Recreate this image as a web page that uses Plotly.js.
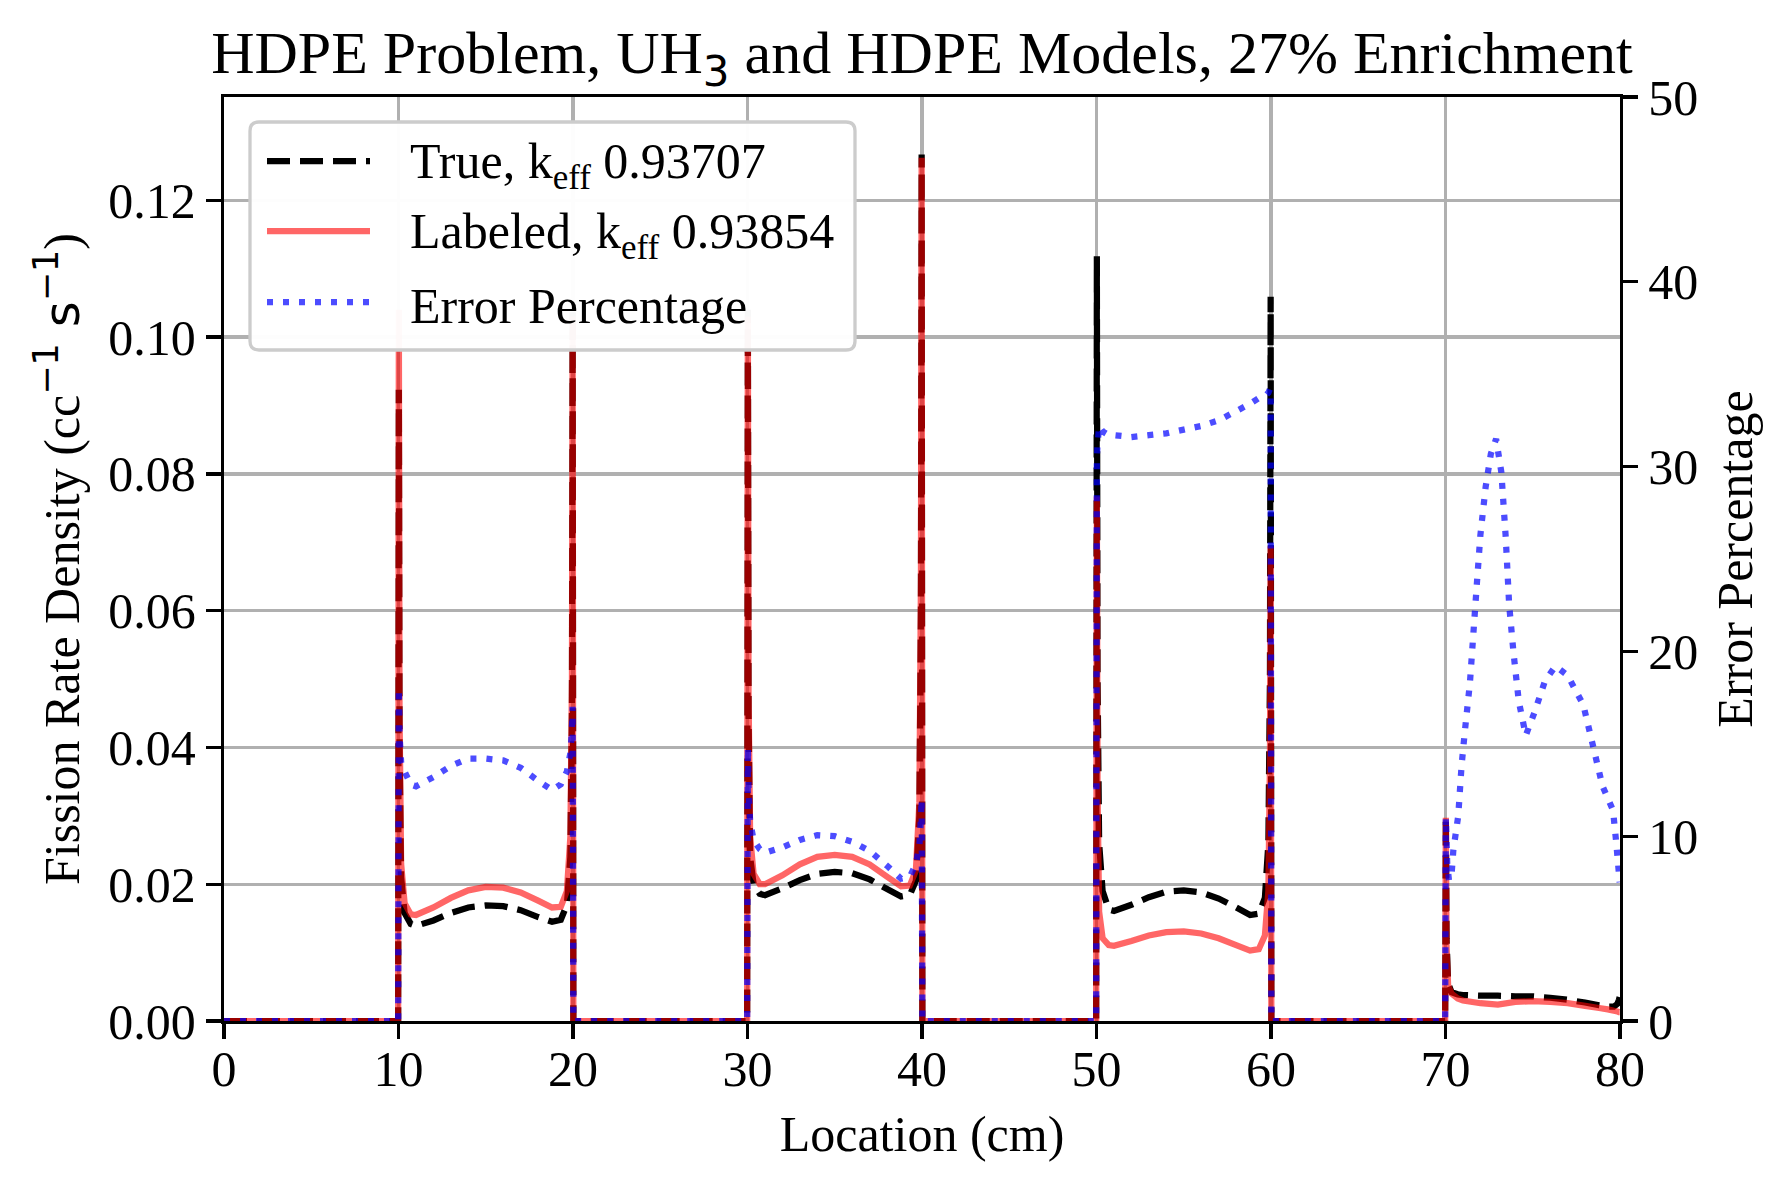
<!DOCTYPE html>
<html>
<head>
<meta charset="utf-8">
<script src="https://cdn.plot.ly/plotly-3.0.1.min.js"></script>
<style>
  html, body { margin: 0; padding: 0; background: #ffffff; }
  #chart { width: 1790px; height: 1189px; }
</style>
</head>
<body>
<div id="chart"></div>
<script>
// ---- data ----
const location_cm = [0, 9.98,
  10.02,10.06,10.15,10.35,10.7,11,12,13,14,15,16,17,18,18.8,19.3,19.65,19.85,19.94,19.98,
  20.02, 29.98,
  30.02,30.06,30.15,30.35,30.7,31,32,33,34,35,36,37,38,38.8,39.3,39.65,39.85,39.94,39.98,
  40.02, 49.98,
  50.02,50.06,50.15,50.35,50.7,51,52,53,54,55,56,57,58,58.8,59.3,59.65,59.85,59.94,59.98,
  60.02, 69.98,
  70.02,70.06,70.15,70.35,70.7,71,72,73,74,75,76,77,78,78.8,79.3,79.65,79.85,79.94,79.98];

const trueRate = [0, 0,
  0.0923,0.040,0.021,0.0158,0.0142,0.0139,0.0147,0.0158,0.0166,0.0169,0.0168,0.0162,0.0152,0.0145,0.0148,0.0170,0.024,0.045,0.104,
  0, 0,
  0.104,0.045,0.024,0.0200,0.0186,0.0184,0.0194,0.0206,0.0215,0.0218,0.0216,0.0207,0.0193,0.0182,0.0184,0.0205,0.030,0.060,0.1267,
  0, 0,
  0.1118,0.050,0.026,0.0190,0.0163,0.0161,0.0170,0.0181,0.0189,0.0191,0.0188,0.0179,0.0166,0.0155,0.0157,0.0180,0.026,0.050,0.1059,
  0, 0,
  0.0298,0.012,0.0055,0.0042,0.0039,0.0038,0.0037,0.0037,0.0036,0.0036,0.0034,0.0031,0.0027,0.0023,0.0021,0.0021,0.0025,0.0031,0.0035];

const labeledRate = [0, 0,
  0.104,0.045,0.023,0.0172,0.0156,0.0155,0.0166,0.0180,0.0191,0.0196,0.0195,0.0188,0.0176,0.0166,0.0167,0.0190,0.027,0.050,0.103,
  0, 0,
  0.103,0.048,0.027,0.0215,0.0200,0.0200,0.0213,0.0229,0.0240,0.0243,0.0240,0.0229,0.0211,0.0197,0.0198,0.0220,0.032,0.065,0.1262,
  0, 0,
  0.0767,0.034,0.016,0.0121,0.0111,0.0110,0.0117,0.0125,0.0130,0.0131,0.0128,0.0121,0.0111,0.0103,0.0105,0.0125,0.019,0.038,0.0694,
  0, 0,
  0.0297,0.011,0.0052,0.0040,0.0033,0.0030,0.0026,0.0024,0.0028,0.0029,0.0028,0.0026,0.0022,0.0019,0.0017,0.0015,0.0014,0.0013,0.0013];

const errorLocation = [0, 9.98,
  10.02,10.06,10.15,10.35,10.7,11,12,13,14,15,16,17,18,18.8,19.3,19.65,19.85,19.94,19.98,
  20.02, 29.98,
  30.02,30.06,30.15,30.35,30.7,31,32,33,34,35,36,37,38,38.8,39.3,39.65,39.85,39.94,39.98,
  40.02, 49.98,
  50.02,50.06,50.15,50.35,50.7,51,52,53,54,55,56,57,58,58.8,59.3,59.65,59.85,59.94,59.98,
  60.02, 69.98,
  70.02,70.1,70.2,70.35,70.45,70.73,70.92,71.1,71.4,71.6,71.8,72.0,72.3,72.6,72.9,73.2,73.45,73.65,73.9,74.2,74.6,75.1,75.7,76.3,77.0,77.9,78.5,79.0,79.6,79.8,79.98];

const errorPct = [0, 0,
  18.0,15.5,14.0,13.5,12.8,12.7,13.2,13.8,14.2,14.2,14.1,13.7,13.0,12.5,12.8,13.5,14.5,15.8,17.0,
  0, 0,
  14.8,12.5,10.8,9.8,9.3,9.1,9.4,9.8,10.06,10.0,9.7,9.2,8.4,7.7,7.8,8.5,9.5,11.0,12.0,
  0, 0,
  30.5,31.2,32.2,31.9,31.7,31.7,31.6,31.7,31.8,32.0,32.2,32.5,33.0,33.4,33.7,33.8,34.0,34.2,33.8,
  0, 0,
  11.0,8.5,7.6,7.95,9.25,11.1,13.8,15.6,18.3,21.0,23.7,26.3,28.9,30.7,31.5,29.7,26.2,22.5,19.9,17.3,15.45,16.7,18.4,19.2,18.7,17.1,14.7,12.7,11.4,9.5,7.5];

const xTicks = [0, 10, 20, 30, 40, 50, 60, 70, 80];
const yTicks = [0, 0.02, 0.04, 0.06, 0.08, 0.10, 0.12];
const y2Ticks = [0, 10, 20, 30, 40, 50];
const seriesNames = ['True, k<sub>eff</sub> 0.93707', 'Labeled, k<sub>eff</sub> 0.93854', 'Error Percentage'];

// ---- styling ----
const SERIF = 'Liberation Serif, Times New Roman, serif';
const LW = 6.25;
const C_TRUE = '#000000';
const C_LAB = 'rgba(255,0,0,0.6)';
const C_ERR = 'rgba(0,0,255,0.7)';
const DASH = '23px,10px';
const DOT = '6px,10px';

const traces = [
  { x: location_cm, y: trueRate, type: 'scatter', mode: 'lines', name: seriesNames[0],
    line: { color: C_TRUE, width: LW, dash: DASH, simplify: false }, xaxis: 'x', yaxis: 'y', showlegend: false },
  { x: location_cm, y: labeledRate, type: 'scatter', mode: 'lines', name: seriesNames[1],
    line: { color: C_LAB, width: LW, simplify: false }, xaxis: 'x', yaxis: 'y', showlegend: false },
  { x: errorLocation, y: errorPct, type: 'scatter', mode: 'lines', name: seriesNames[2],
    line: { color: C_ERR, width: LW, dash: DOT, simplify: false }, xaxis: 'x', yaxis: 'y2', showlegend: false }
];

// plot area in pixels
const W = 1790, H = 1189;
const L = 224, R = 1620, T = 97, B = 1021;
const pw = R - L, ph = B - T;
const px = v => (v - L) / pw;      // pixel -> paper x
const py = v => (B - v) / ph;      // pixel -> paper y

function roundedRect(x0, y0, x1, y1, r) {
  const rx = r / pw, ry = r / ph;
  const a = px(x0), b = px(x1), top = py(y0), bot = py(y1);
  return `M${a+rx},${top} L${b-rx},${top} Q${b},${top} ${b},${top-ry} L${b},${bot+ry} Q${b},${bot} ${b-rx},${bot} L${a+rx},${bot} Q${a},${bot} ${a},${bot+ry} L${a},${top-ry} Q${a},${top} ${a+rx},${top} Z`;
}

const legRows = [161, 231, 302];
const legStyles = [
  { color: C_TRUE, dash: DASH },
  { color: C_LAB, dash: 'solid' },
  { color: C_ERR, dash: DOT }
];

const shapes = [
  { type: 'path', xref: 'paper', yref: 'paper', path: roundedRect(250, 122, 855, 350, 9),
    fillcolor: 'rgba(255,255,255,0.97)', line: { color: '#cccccc', width: 3.3 }, layer: 'above' }
];
legRows.forEach((yy, i) => {
  shapes.push({ type: 'line', xref: 'paper', yref: 'paper', x0: px(267), x1: px(370), y0: py(yy), y1: py(yy),
    line: { color: legStyles[i].color, width: LW, dash: legStyles[i].dash }, layer: 'above' });
});

const annotations = legRows.map((yy, i) => ({
  xref: 'paper', yref: 'paper', x: px(408), y: py(yy + 4), xanchor: 'left', yanchor: 'middle',
  text: seriesNames[i], showarrow: false, align: 'left',
  font: { family: SERIF, size: 50, color: '#000000' }
}));

const axisCommon = {
  showline: true, linecolor: '#000000', linewidth: 3.3,
  ticks: 'outside', ticklen: 15, tickwidth: 3.3, tickcolor: '#000000',
  tickfont: { family: SERIF, size: 50, color: '#000000' },
  zeroline: false, automargin: false
};

const layout = {
  width: W, height: H,
  margin: { l: L, r: W - R, t: T, b: H - B, pad: 0 },
  paper_bgcolor: '#ffffff', plot_bgcolor: '#ffffff',
  showlegend: false,
  title: {
    text: 'HDPE Problem, UH<sub><span style="font-family:DejaVu Sans">3</span></sub> and HDPE Models, 27% Enrichment',
    font: { family: SERIF, size: 60, color: '#000000' },
    x: 0.5, xref: 'paper', xanchor: 'center',
    y: 1 - 52 / H, yref: 'container', yanchor: 'middle'
  },
  xaxis: Object.assign({}, axisCommon, {
    range: [0, 80], tickvals: xTicks, ticktext: xTicks.map(String),
    ticklabelstandoff: -13,
    showgrid: true, gridcolor: '#b0b0b0', gridwidth: 3.3, mirror: true,
    title: { text: 'Location (cm)', font: { family: SERIF, size: 50, color: '#000000' }, standoff: 20 }
  }),
  yaxis: Object.assign({}, axisCommon, {
    range: [0, 0.1351], tickvals: yTicks, ticktext: yTicks.map(v => v.toFixed(2)),
    showgrid: true, gridcolor: '#b0b0b0', gridwidth: 3.3, mirror: false,
    title: {
      text: 'Fission Rate Density (cc<sup><span style="font-family:DejaVu Sans">\u22121</span></sup><span style="font-family:DejaVu Sans"> s</span><sup><span style="font-family:DejaVu Sans">\u22121</span></sup>)',
      font: { family: SERIF, size: 50, color: '#000000' }, standoff: 13
    }
  }),
  yaxis2: Object.assign({}, axisCommon, {
    overlaying: 'y', side: 'right', anchor: 'x',
    range: [0, 50], tickvals: y2Ticks, ticktext: y2Ticks.map(String),
    showgrid: false,
    title: { text: 'Error Percentage', font: { family: SERIF, size: 50, color: '#000000' }, standoff: 20 }
  }),
  shapes: shapes,
  annotations: annotations
};

Plotly.newPlot('chart', traces, layout, { displayModeBar: false, staticPlot: true });
</script>
</body>
</html>
